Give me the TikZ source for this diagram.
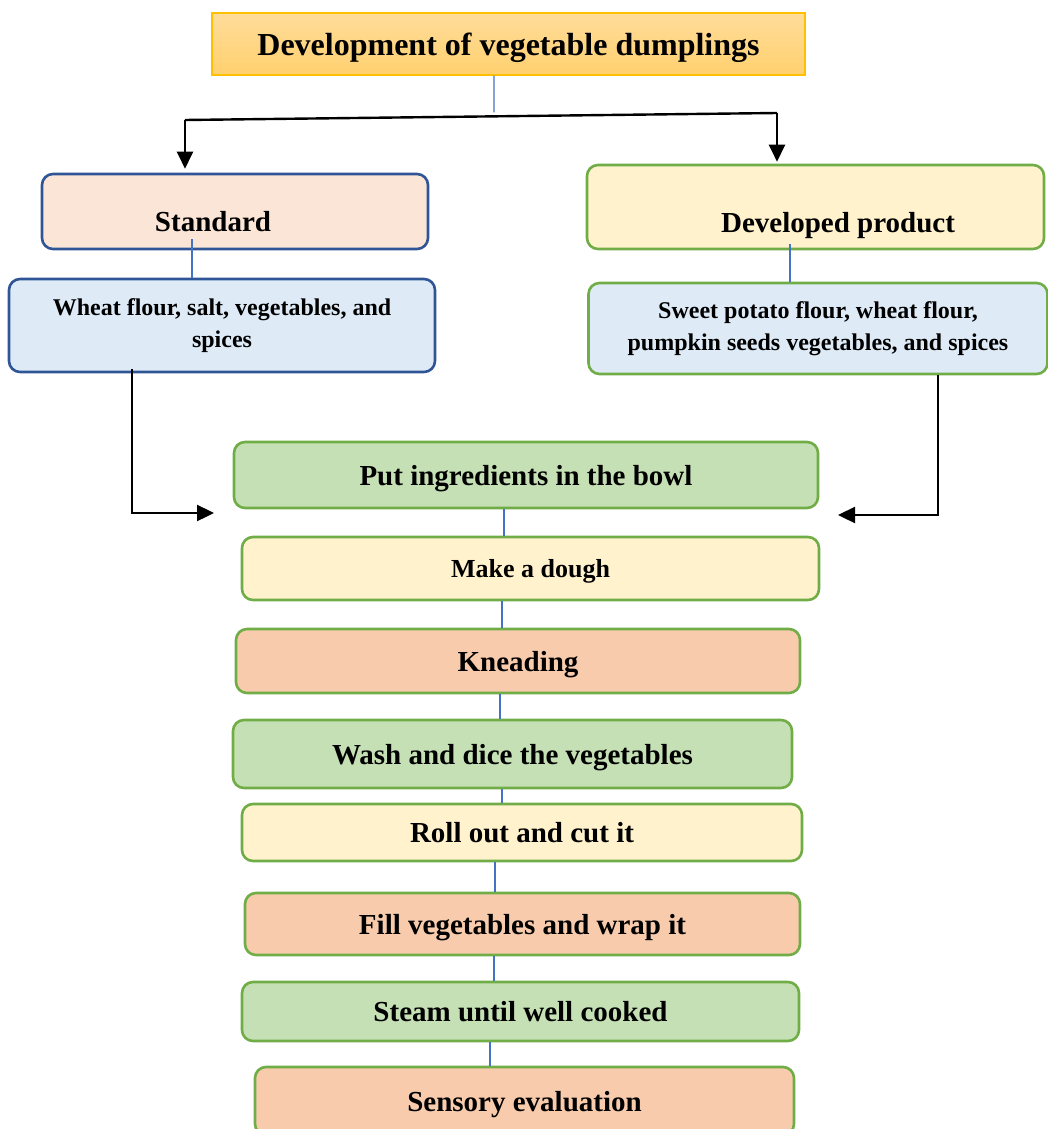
\documentclass[tikz,border=0pt]{standalone}
\usepackage{fontspec}
\setmainfont{Liberation Serif}
\usetikzlibrary{arrows.meta,calc}

\definecolor{titleborder}{HTML}{FFC000}
\definecolor{titletop}{HTML}{FFDC9A}
\definecolor{titlebot}{HTML}{FFD06E}
\definecolor{darkblue}{HTML}{2F5597}
\definecolor{leafgreen}{HTML}{70AD47}
\definecolor{linkblue}{HTML}{4472C4}
\definecolor{peach}{HTML}{FBE5D6}
\definecolor{cream}{HTML}{FFF2CC}
\definecolor{skyblue}{HTML}{DEEBF7}
\definecolor{mint}{HTML}{C5E0B4}
\definecolor{salmon}{HTML}{F8CBAD}

\tikzset{
  box/.style={draw, line width=2.6pt, rounded corners=11pt, inner sep=0pt,
              text depth=0pt, font=\bfseries\fontsize{29}{34}\selectfont},
  greenbox/.style={box, draw=leafgreen},
  bluebox/.style={box, draw=darkblue},
  listtext/.style={font=\bfseries\fontsize{24}{32}\selectfont, align=center, text depth=},
  link/.style={draw=linkblue, line width=1.1pt},
  flow/.style={draw=black, line width=2.4pt,
               -{Triangle[length=17pt,width=16pt]}},
  bar/.style={draw=black, line width=2.4pt}
}

\begin{document}
\begin{tikzpicture}[x=1pt,y=-1pt]
  \clip (0,0) rectangle (1048,1129);
  \useasboundingbox (0,0) rectangle (1048,1129);

  % heading
  \node[draw=titleborder, line width=1.2pt, top color=titletop, bottom color=titlebot,
        minimum width=593pt, minimum height=62pt, inner sep=0pt, text depth=0pt,
        font=\bfseries\fontsize{32}{38}\selectfont]
        (title) at (508.5,44) {Development of vegetable dumplings};

  % the two recipes
  \node[bluebox, fill=peach, minimum width=386pt, minimum height=75pt]
        (std) at (235,211.5) {};
  \node[font=\bfseries\fontsize{29}{34}\selectfont] (stdtext) at (213,222) {Standard};

  \node[greenbox, fill=cream, minimum width=457pt, minimum height=84pt]
        (dev) at (815.5,207) {};
  \node[font=\bfseries\fontsize{29}{34}\selectfont, text depth=0pt] (devtext) at (838,222) {Developed product};

  \node[bluebox, fill=skyblue, minimum width=426pt, minimum height=93pt, listtext]
        (wheat) at (222,325.5) {Wheat flour, salt, vegetables, and\\spices};
  \node[greenbox, fill=skyblue, minimum width=459pt, minimum height=91pt, listtext]
        (sweet) at (818,328.5) {Sweet potato flour, wheat flour,\\pumpkin seeds vegetables, and spices};

  % processing steps
  \node[greenbox, fill=mint,   minimum width=584pt, minimum height=66pt] (put)   at (526,475)    {Put ingredients in the bowl};
  \node[greenbox, fill=cream,  minimum width=577pt, minimum height=63pt,
        font=\bfseries\fontsize{26}{31}\selectfont]                      (dough) at (530.5,568.5) {Make a dough};
  \node[greenbox, fill=salmon, minimum width=564pt, minimum height=64pt] (knead) at (518,661)    {Kneading};
  \node[greenbox, fill=mint,   minimum width=559pt, minimum height=68pt] (wash)  at (512.5,754)  {Wash and dice the vegetables};
  \node[greenbox, fill=cream,  minimum width=560pt, minimum height=57pt] (roll)  at (522,832.5)  {Roll out and cut it};
  \node[greenbox, fill=salmon, minimum width=555pt, minimum height=62pt] (wrap)  at (522.5,924)  {Fill vegetables and wrap it};
  \node[greenbox, fill=mint,   minimum width=557pt, minimum height=59pt] (steam) at (520.5,1011.5) {Steam until well cooked};
  \node[greenbox, fill=salmon, minimum width=539pt, minimum height=68pt] (sense) at (524.5,1101) {Sensory evaluation};

  % branching from the heading
  \coordinate (brL) at (185,120);
  \coordinate (brR) at (777,113);
  \coordinate (brM) at ($(brL)!0.522!(brR)$);
  \draw[link] ([xshift=-14.5pt]title.south) -- ([yshift=4pt]brM);
  \draw[bar] (brL) -- (brR);
  \draw[flow, shorten >=4pt] (brL) -- (brL |- std.north);
  \draw[flow, shorten >=2pt] (brR) -- (brR |- dev.north);

  % recipe to ingredient lists
  \draw[link] ([xshift=-43pt,yshift=11pt]std.south) -- ([xshift=-43pt]std.south |- wheat.north);
  \draw[link] ([xshift=-25.5pt,yshift=6pt]dev.south) -- ([xshift=-25.5pt]dev.south |- sweet.north);

  % ingredient lists into the bowl
  \coordinate (inL) at (214,513);
  \coordinate (inR) at (838,515);
  \draw[flow] ([xshift=-90pt,yshift=4pt]wheat.south) |- (inL);
  \draw[flow] ([xshift=120pt]sweet.south) |- (inR);

  % step to step
  \draw[link] ([xshift=-22pt]put.south)     -- ([xshift=-22pt]put.south |- dough.north);
  \draw[link] ([xshift=-28.5pt]dough.south) -- ([xshift=-28.5pt]dough.south |- knead.north);
  \draw[link] ([xshift=-18pt]knead.south)   -- ([xshift=-18pt]knead.south |- wash.north);
  \draw[link] ([xshift=-10.5pt]wash.south)  -- ([xshift=-10.5pt]wash.south |- roll.north);
  \draw[link] ([xshift=-27pt]roll.south)    -- ([xshift=-27pt]roll.south |- wrap.north);
  \draw[link] ([xshift=-28.5pt]wrap.south)  -- ([xshift=-28.5pt]wrap.south |- steam.north);
  \draw[link] ([xshift=-30.5pt]steam.south) -- ([xshift=-30.5pt]steam.south |- sense.north);
\end{tikzpicture}
\end{document}
